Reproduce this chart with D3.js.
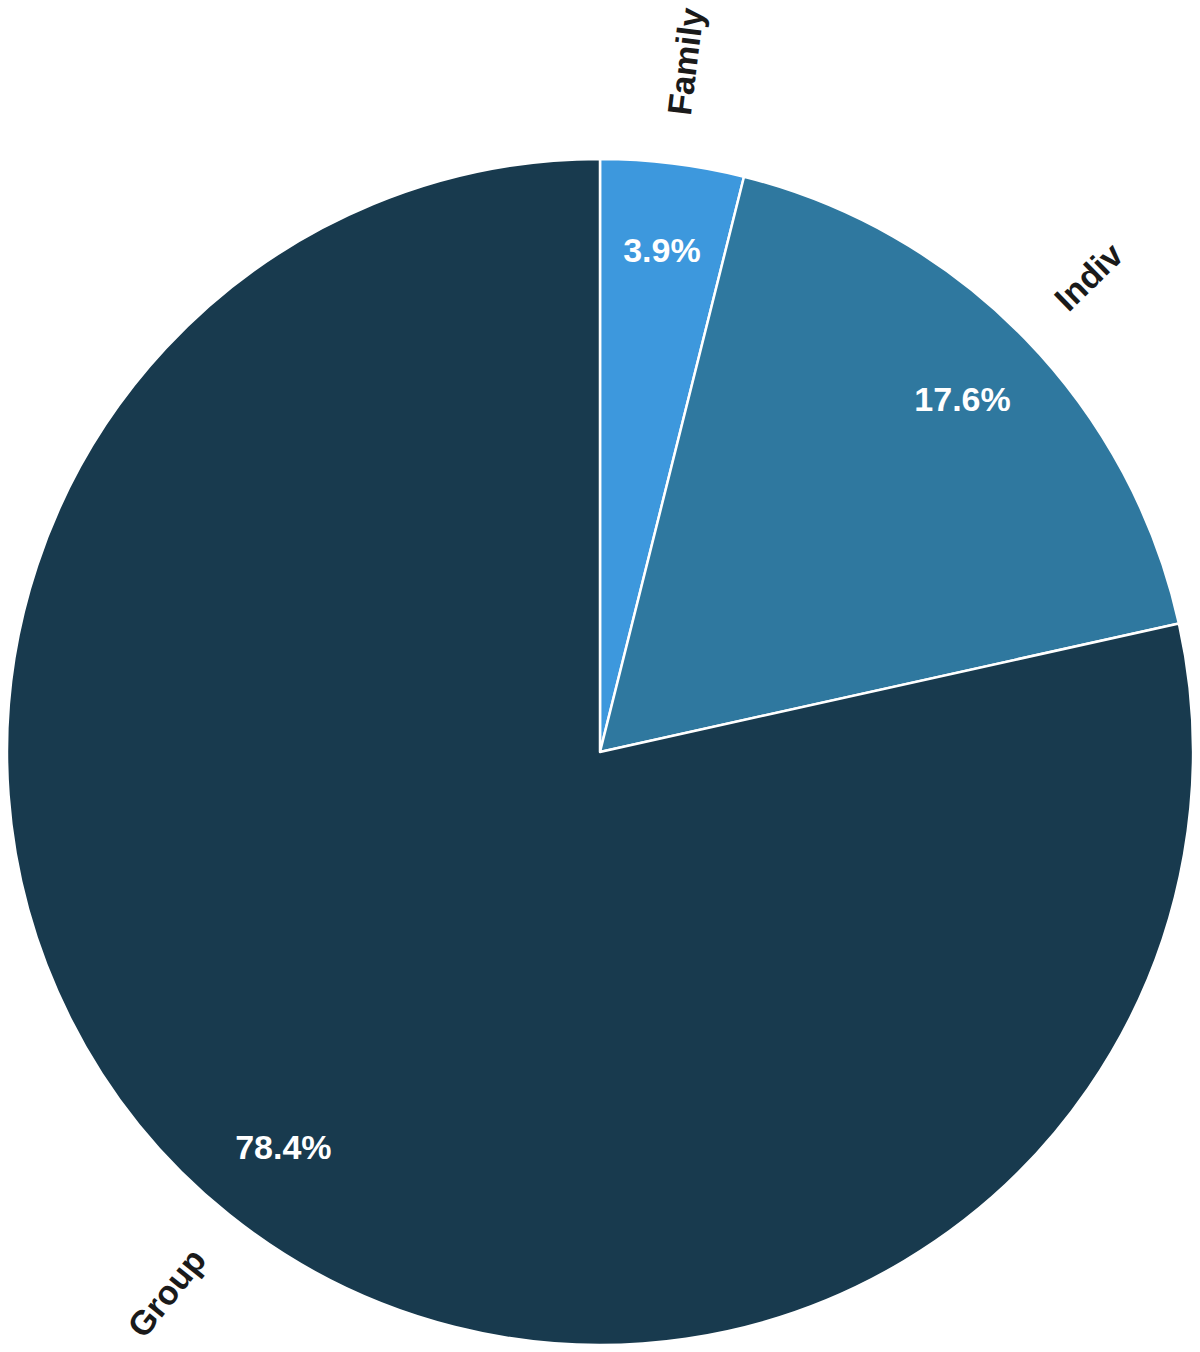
<!DOCTYPE html>
<html>
<head>
<meta charset="utf-8">
<script src="https://cdn.jsdelivr.net/npm/d3@7"></script>
<style>
  html, body { margin: 0; padding: 0; background: #fff; }
  svg { display: block; }
</style>
</head>
<body>
<svg id="chart" width="1200" height="1352"></svg>
<script>
const categories = ["Family", "Indiv", "Group"];
const values = [3.9, 17.6, 78.4];
const percentLabels = ["3.9%", "17.6%", "78.4%"];
const colors = ["#3d98dd", "#2f789f", "#183a4e"];

const W = 1200, H = 1352;
const cx = 600, cy = 752, R = 593;
const svg = d3.select("#chart");
const g = svg.append("g").attr("transform", `translate(${cx},${cy})`);

const data = categories.map((c, i) => ({ name: c, value: values[i], label: percentLabels[i], color: colors[i] }));
const pie = d3.pie().sort(null).value(d => d.value);
const arcs = pie(data);
const arc = d3.arc().innerRadius(0).outerRadius(R);

g.selectAll("path.slice").data(arcs).join("path")
  .attr("class", "slice")
  .attr("d", arc)
  .attr("fill", d => d.data.color)
  .attr("stroke", "#ffffff")
  .attr("stroke-width", 2.5)
  .attr("stroke-linejoin", "round");

const font = "'Liberation Sans', Arial, Helvetica, sans-serif";

// percent labels
const pr = 506;
g.selectAll("text.pct").data(arcs).join("text")
  .attr("class", "pct")
  .attr("x", d => { const a = (d.startAngle + d.endAngle) / 2; return pr * Math.sin(a); })
  .attr("y", d => { const a = (d.startAngle + d.endAngle) / 2; return -pr * Math.cos(a); })
  .attr("dy", "0.36em")
  .attr("text-anchor", "middle")
  .attr("font-family", font)
  .attr("font-weight", "bold")
  .attr("font-size", 34)
  .attr("fill", "#ffffff")
  .text(d => d.data.label);

// category labels, radial, outside
const lr = 642;
g.selectAll("text.cat").data(arcs).join("text")
  .attr("class", "cat")
  .attr("transform", d => {
    const a = (d.startAngle + d.endAngle) / 2;
    const x = lr * Math.sin(a), y = -lr * Math.cos(a);
    let deg = a * 180 / Math.PI - 90;
    if (a > Math.PI) deg += 180;
    return `translate(${x},${y}) rotate(${deg})`;
  })
  .attr("text-anchor", d => ((d.startAngle + d.endAngle) / 2 > Math.PI) ? "end" : "start")
  .attr("dy", "0.36em")
  .attr("font-family", font)
  .attr("font-weight", "bold")
  .attr("font-size", 34)
  .attr("fill", "#1a1a1a")
  .text(d => d.data.name);
</script>
</body>
</html>
